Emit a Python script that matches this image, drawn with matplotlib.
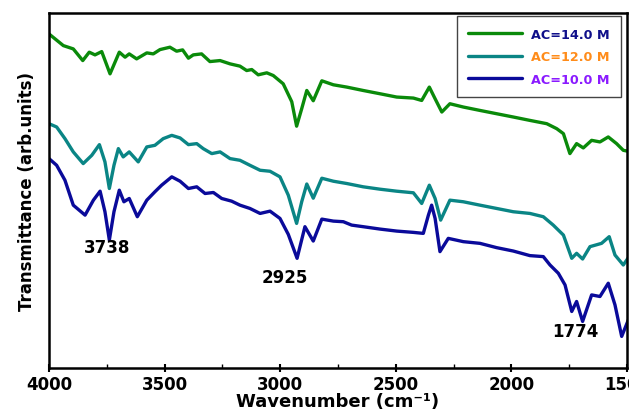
import matplotlib
matplotlib.use("Agg")
import matplotlib.pyplot as plt
from matplotlib.ticker import MultipleLocator

# ---- data ----
wn_14 = [4000, 3938, 3895, 3854, 3826, 3801, 3772, 3736, 3696, 3671, 3653, 3621, 3577, 3549,
         3520, 3477, 3448, 3422, 3397, 3376, 3340, 3304, 3260, 3217, 3174, 3145, 3123, 3095,
         3058, 3030, 2987, 2950, 2929, 2907, 2885, 2857, 2820, 2770, 2712, 2641, 2568, 2496,
         2424, 2388, 2355, 2330, 2301, 2266, 2208, 2136, 2064, 1992, 1920, 1847, 1804, 1775,
         1747, 1718, 1689, 1653, 1617, 1581, 1545, 1516, 1494]
t_14 = [335, 323.3, 320, 308.3, 316.7, 314, 317.3, 295, 316.7, 311.7, 315, 310, 316, 315,
        319.3, 321.7, 317.7, 319, 310.7, 314, 315, 307.3, 308.3, 305, 302.7, 298.3, 299.3, 294,
        296, 293.3, 285, 267, 242.5, 260, 278.3, 268, 288, 284, 281.7, 278.3, 275, 271.7,
        270.7, 268.3, 281.7, 270, 256.7, 265, 261.7, 258.3, 255, 251.7, 248.3, 245, 240, 235,
        215, 225, 220.7, 228.3, 226.7, 231.7, 225, 218.3, 217.3]

wn_12 = [4000, 3967, 3931, 3895, 3852, 3815, 3782, 3758, 3739, 3719, 3700, 3679, 3653, 3614,
         3577, 3542, 3506, 3469, 3433, 3397, 3361, 3333, 3296, 3260, 3217, 3174, 3131, 3087,
         3044, 3001, 2965, 2929, 2907, 2885, 2857, 2820, 2770, 2712, 2641, 2568, 2496, 2424,
         2388, 2355, 2330, 2306, 2266, 2208, 2136, 2064, 1992, 1920, 1862, 1819, 1775, 1739,
         1718, 1692, 1660, 1610, 1577, 1552, 1516, 1494]
t_12 = [245, 241.7, 230, 216.7, 205, 213.3, 224, 206.7, 180, 203.3, 220, 211.7, 216.7, 206.7,
        221.7, 223.3, 230, 233.3, 230.7, 224, 225, 220, 215, 216.7, 210, 208.3, 203.3, 198.3,
        197.3, 191.7, 173.3, 145, 166.7, 184.5, 170.3, 190.3, 187.3, 185, 181.7, 179.3, 177.3, 175.7,
        165, 183.3, 170, 148.3, 168.3, 166.7, 163.3, 160, 156.7, 155, 151.7, 143.3, 133.3, 110,
        115, 109.3, 121.7, 125, 131.7, 113.3, 103.3, 110.7]

wn_10 = [4000, 3967, 3931, 3895, 3844, 3808, 3779, 3758, 3739, 3719, 3696, 3676, 3653, 3618,
         3577, 3542, 3513, 3469, 3433, 3397, 3361, 3325, 3289, 3253, 3210, 3174, 3131, 3087,
         3044, 3001, 2965, 2927, 2893, 2857, 2820, 2770, 2727, 2691, 2641, 2568, 2496, 2424,
         2381, 2359, 2345, 2330, 2309, 2273, 2208, 2136, 2064, 1992, 1920, 1862, 1833, 1797,
         1768, 1739, 1718, 1692, 1653, 1617, 1581, 1552, 1523, 1494]
t_10 = [210, 203.3, 188.3, 163.3, 153.3, 168.3, 177.3, 156.7, 128.3, 156.7, 178.3, 166.7, 170, 151.7,
        168.3, 176.7, 183.3, 191.7, 187.3, 180, 181.7, 175, 176, 170, 167.3, 163.3, 160, 155,
        157.3, 150, 134, 110, 141.7, 127.3, 149.3, 147.3, 146.7, 143.3, 141.7, 139.3, 137.3, 136,
        135, 153.3, 163.3, 150, 116.7, 130, 126.7, 125, 120.7, 117.3, 112.7, 111.7, 103.3, 95,
        83.3, 56.7, 66.7, 46.7, 73.3, 71.7, 85, 63.3, 31.7, 48.3]

series_labels = ["AC=14.0 M", "AC=12.0 M", "AC=10.0 M"]
label_colors = ["#10108a", "#ff8c1a", "#8a1aff"]
line_colors = ["#0a8a0a", "#0a8585", "#0a0a9a"]

peak_labels = ["3738", "2925", "1774"]
peak_pos = [(3749, 121), (2979, 91), (1725, 37)]

# ---- figure ----
plt.rcParams['font.family'] = ['DejaVu Sans']
fig = plt.figure(figsize=(6.29, 4.14), dpi=100)
ax = fig.add_axes([49/629, 1 - 369/414, (627 - 49)/629, (369 - 14)/414])

for wn, t, c, lab in zip([wn_14, wn_12, wn_10], [t_14, t_12, t_10], line_colors, series_labels):
    ax.plot(wn, t, color=c, lw=2.4, label=lab, solid_joinstyle='round', solid_capstyle='round')

for txt, (x, y) in zip(peak_labels, peak_pos):
    ax.text(x, y, txt, ha='center', va='center', fontsize=12, fontweight='bold', color='black')

ax.set_xlim(4000, 1500)
ax.set_ylim(0, 356)
ax.xaxis.set_major_locator(MultipleLocator(500))
ax.xaxis.set_minor_locator(MultipleLocator(250))
ax.set_yticks([])
ax.tick_params(axis='x', which='major', direction='inout', length=6, width=1.5,
               labelsize=12, pad=2)
ax.tick_params(axis='x', which='minor', direction='in', length=3, width=1)
for lbl in ax.get_xticklabels():
    lbl.set_fontweight('bold')
for sp in ax.spines.values():
    sp.set_linewidth(1.8)

ax.set_xlabel("Wavenumber (cm\u207b\u00b9)", fontsize=13, fontweight='bold', labelpad=-1)
ax.set_ylabel("Transmittance (arb.units)", fontsize=12, fontweight='bold', labelpad=9)

leg = ax.legend(loc='upper right', bbox_to_anchor=(0.99, 0.991), fontsize=9.2,
                handlelength=4.2, handletextpad=0.7, labelspacing=0.75,
                borderpad=0.9, borderaxespad=0, fancybox=False, framealpha=1,
                edgecolor='#444444')
leg.get_frame().set_linewidth(1.0)
for txt, c in zip(leg.get_texts(), label_colors):
    txt.set_color(c)
    txt.set_fontweight('bold')

fig.savefig("out.png", dpi=100)
